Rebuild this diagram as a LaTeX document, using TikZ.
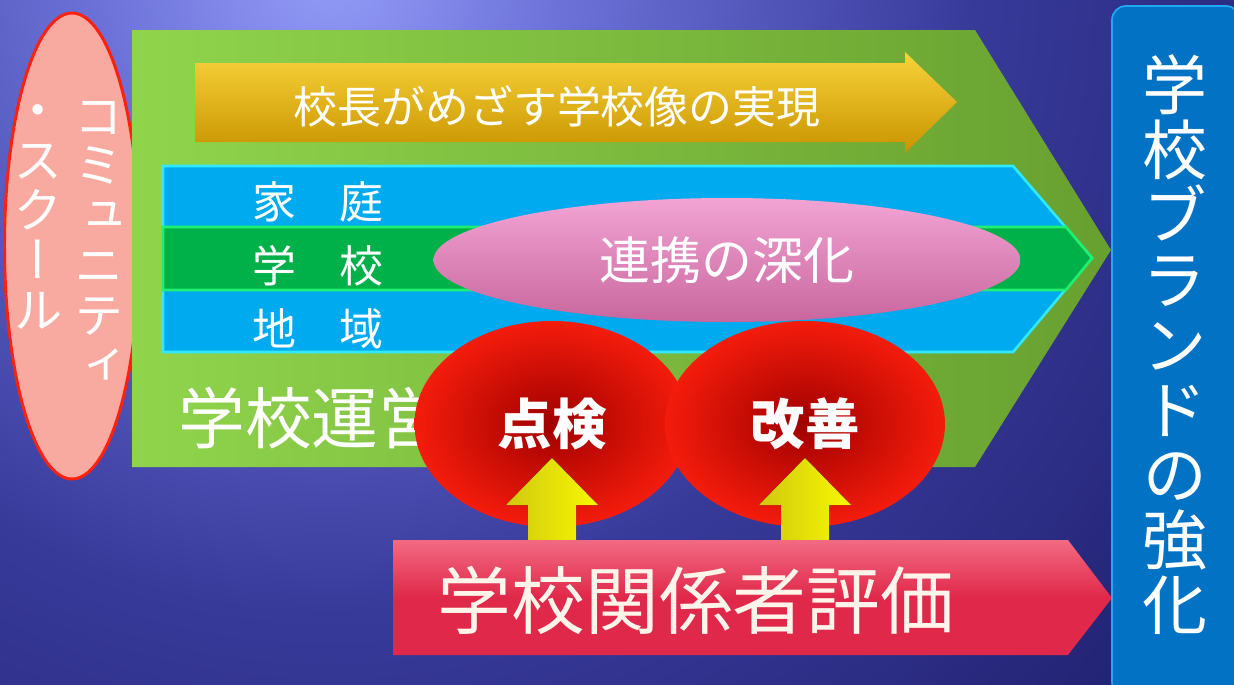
\documentclass[tikz,border=0pt]{standalone}
\usepackage{fontspec}
\usepackage{xcolor}
\usepackage{tikz}
\usetikzlibrary{shapes.geometric,positioning,calc}
\setmainfont{Noto Sans CJK JP}
\newfontfamily\tate[RawFeature=+vert]{Noto Sans CJK JP}
\newcommand{\pxu}{0.02cm}
\definecolor{bgA}{HTML}{949CF8}
\definecolor{bgM}{HTML}{6C72D8}
\definecolor{bgN}{HTML}{383A9A}
\definecolor{bgB}{HTML}{1C1C68}
\definecolor{bgC}{HTML}{101050}
\definecolor{greenA}{HTML}{90D44C}
\definecolor{greenB}{HTML}{68A030}
\definecolor{goldA}{HTML}{F8D23A}
\definecolor{goldB}{HTML}{C89400}
\definecolor{sky}{HTML}{00AAEE}
\definecolor{skyedge}{HTML}{30E8FF}
\definecolor{grn}{HTML}{00B048}
\definecolor{grnedge}{HTML}{20F070}
\definecolor{pinkA}{HTML}{F2A4D4}
\definecolor{pinkB}{HTML}{C8669E}
\definecolor{salmon}{HTML}{F9AAA0}
\definecolor{redline}{HTML}{FF2010}
\definecolor{ballin}{HTML}{A00000}
\definecolor{ballout}{HTML}{F41C0C}
\definecolor{yel}{HTML}{F8F800}
\definecolor{yelD}{HTML}{D0C810}
\definecolor{evalA}{HTML}{F26A82}
\definecolor{evalB}{HTML}{E0284A}
\definecolor{brandblue}{HTML}{0272C4}
\definecolor{brandedge}{HTML}{20A8F0}
\definecolor{offwhite}{HTML}{FFF4EA}
\pgfdeclareradialshading{bgglow}{\pgfpoint{0bp}{0bp}}{color(0bp)=(bgA); color(5bp)=(bgM);
  color(14bp)=(bgN); color(26bp)=(bgB); color(50bp)=(bgC)}

\begin{document}
\begin{tikzpicture}[x=0.02cm, y=-0.02cm,
              rowtext/.style={text=white, inner sep=0pt, font=\fontsize{25}{25}\selectfont},
              ball/.style={ellipse, inner color=ballin, outer color=ballout, minimum height=206*\pxu,
                           text=white, font=\bfseries\fontsize{31}{31}\selectfont},
              uparrow/.style={left color=yelD, right color=yel},
              tatetext/.style={align=center, inner sep=0pt, text=white},
             ]
\useasboundingbox (0,0) rectangle (1234,684);
% background
\begin{scope}
\clip (0,0) rectangle (1234,684);
\fill[bgB] (0,0) rectangle (1234,684);
\shade[shading=bgglow] (330,-30) circle [radius=1150];
\end{scope}

% community school
\node[ellipse, fill=salmon, draw=redline, line width=1.7pt,
      minimum width=135*\pxu, minimum height=466*\pxu] (cs) at (72,246) {};
\node[tatetext, font={\tate\fontsize{28}{28.35}\selectfont}] (cs1) at (99,242)
  {コ\\ミ\\ュ\\ニ\\テ\\ィ};
\node[tatetext, font={\tate\fontsize{28}{28.35}\selectfont}] (cs2) at (38,217)
  {・\\ス\\ク\\ー\\ル};

% school management
\shade[left color=greenA, right color=greenB]
  (132,30) -- (975,30) -- (1111,250) -- (975,467) -- (132,467) -- cycle;
\shade[top color=goldA, bottom color=goldB]
  (195,63) -- (905,63) -- (905,52) -- (957,102) -- (905,153) -- (905,142) -- (195,142) -- cycle;
\node[text=white, font=\fontsize{25}{25}\selectfont] (vision) at (557,106) {校長がめざす学校像の実現};

\fill[sky, draw=skyedge, line width=1.5pt]
  (163,166) -- (1013,166) -- (1092,258) -- (1013,352) -- (163,352) -- cycle;
\fill[grn, draw=grnedge, line width=1.5pt]
  (163,227) -- (1066,227) -- (1092,258) -- (1066,290) -- (163,290) -- cycle;
\node[rowtext] (home) at (318,202) {家　庭};
\node[rowtext] (school) at (318,266) {学　校};
\node[rowtext] (area) at (318,329) {地　域};

\node[ellipse, top color=pinkA, bottom color=pinkB, minimum width=587*\pxu, minimum height=124*\pxu,
      text=white, font=\fontsize{29}{29}\selectfont] (deepen) at (727,260) {連携の深化};

\node[anchor=west, inner sep=0pt, text=white, font=\fontsize{38}{38}\selectfont] (manage) at (178,418) {学校運営};

\node[ball, minimum width=275*\pxu] (check) at (552,424) {点検};
\node[ball, minimum width=280*\pxu] (improve) at (805,424) {改善};

% evaluation
\coordinate (bandtop) at (393,540);
\foreach \b in {check,improve}{
  \coordinate (tip) at ([yshift=-34*\pxu]\b.center);
  \fill[uparrow] (tip) -- ++(46,47) -- ++(-22,0) -- ++(0,45) -- ++(-48,0) -- ++(0,-45) -- ++(-22,0) -- cycle;
}
\shade[top color=evalA, bottom color=evalB, middle color=evalB]
  (bandtop) -- (1068,540) -- (1112,598) -- (1068,655) -- (393,655) -- cycle;
\node[text=offwhite, font=\fontsize{42}{42}\selectfont] (eval) at (696,600) {学校関係者評価};

% brand
\node[rectangle, rounded corners=8pt, fill=brandblue, draw=brandedge, line width=1pt,
      minimum width=128*\pxu, minimum height=690*\pxu] (brand) at (1176,351) {};
\node[tatetext, font={\tate\fontsize{37}{37}\selectfont}] (brandtext) at (1175,345)
  {学\\校\\ブ\\ラ\\ン\\ド\\の\\強\\化};
\end{tikzpicture}
\end{document}
